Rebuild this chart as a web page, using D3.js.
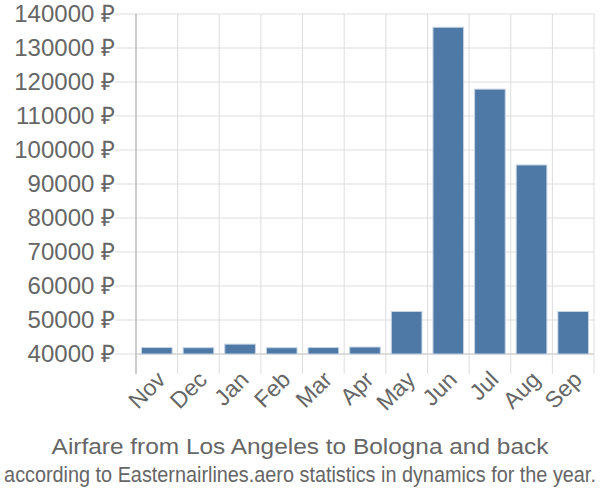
<!DOCTYPE html>
<html><head><meta charset="utf-8">
<script src="https://cdn.jsdelivr.net/npm/d3@7"></script>
<style>body{margin:0;background:#fff}svg{font-family:"Liberation Sans",Arial,sans-serif}</style>
</head><body><svg id="c" width="600" height="500"></svg>
<script>
const months = ["Nov","Dec","Jan","Feb","Mar","Apr","May","Jun","Jul","Aug","Sep"];
const prices = [41900,41850,42900,41850,41900,42050,52500,136100,117900,95600,52500];
const yTicks = [40000,50000,60000,70000,80000,90000,100000,110000,120000,130000,140000];
const title = "Airfare from Los Angeles to Bologna and back";
const subtitle = "according to Easternairlines.aero statistics in dynamics for the year.";

const svg = d3.select("#c");
const L = 136, R = 594, T = 14, B = 354;
const x = d3.scaleBand().domain(months).range([L, R]).paddingInner(0).paddingOuter(0);
const y = d3.scaleLinear().domain([40000, 140000]).range([B, T]);
const grid = "#dddddd", txt = "#666666";

svg.append("g").selectAll("line").data(yTicks).join("line")
  .attr("x1", L - 21).attr("x2", R).attr("y1", d => y(d)).attr("y2", d => y(d))
  .attr("stroke", grid).attr("stroke-width", 1);
const bounds = months.map(m => x(m)).concat([R]);
svg.append("g").selectAll("line").data(bounds).join("line")
  .attr("x1", d => d).attr("x2", d => d).attr("y1", T).attr("y2", B + 20)
  .attr("stroke", grid).attr("stroke-width", 1);
svg.append("line").attr("x1", L).attr("x2", L).attr("y1", T).attr("y2", B + 20)
  .attr("stroke", "#aaaaaa").attr("stroke-width", 1);
svg.append("line").attr("x1", L).attr("x2", R).attr("y1", B).attr("y2", B)
  .attr("stroke", "#cccccc").attr("stroke-width", 1);

svg.append("g").selectAll("text").data(yTicks).join("text")
  .attr("x", L - 21).attr("y", d => y(d)).attr("dy", "0.35em")
  .attr("text-anchor", "end").attr("fill", txt).attr("font-size", 24)
  .text(d => d + " ₽");

const pad = 5.5;
svg.append("g").selectAll("rect").data(prices).join("rect")
  .attr("x", (d, i) => x(months[i]) + pad)
  .attr("width", x.bandwidth() - 2 * pad)
  .attr("y", d => y(d))
  .attr("height", d => B - y(d))
  .attr("fill", "#4e79a7")
  .attr("stroke", "#c6d4e4").attr("stroke-width", 1);

svg.append("g").selectAll("text").data(months).join("text")
  .attr("transform", d => `translate(${x(d) + x.bandwidth() / 2 + 10},${B + 27}) rotate(-45)`)
  .attr("text-anchor", "end").attr("fill", txt).attr("font-size", 23)
  .text(d => d);

function fitted(str, cy, size, width) {
  const t = svg.append("text").attr("text-anchor", "middle")
    .attr("fill", txt).attr("font-size", size).text(str);
  const w = t.node().getComputedTextLength();
  t.attr("transform", `translate(300,${cy}) scale(${width / w},1)`);
}
fitted(title, 454, 22, 497);
fitted(subtitle, 482, 22, 592);
</script></body></html>
